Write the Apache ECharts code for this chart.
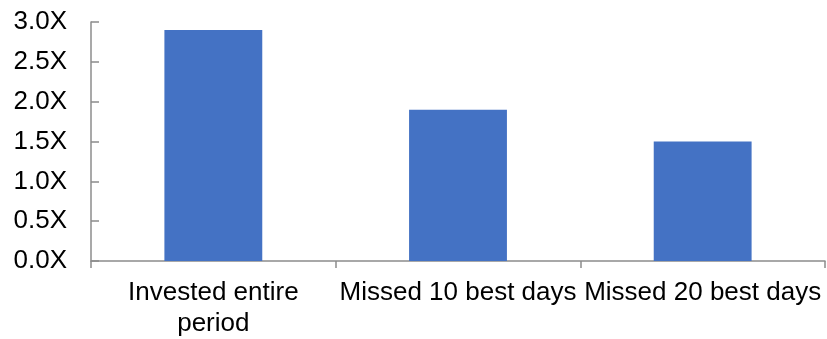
<!DOCTYPE html>
<html>
<head>
<meta charset="utf-8">
<script src="https://cdn.jsdelivr.net/npm/echarts@6/dist/echarts.min.js"></script>
<style>html,body{margin:0;padding:0;background:#fff;}#c{width:827px;height:339px;}</style>
</head>
<body>
<div id="c"></div>
<script>
const categories = ["Invested entire\nperiod", "Missed 10 best days", "Missed 20 best days"];
const values = [2.9, 1.9, 1.5];
const yTicks = [0, 0.5, 1.0, 1.5, 2.0, 2.5, 3.0];

const chart = echarts.init(document.getElementById('c'), null, {renderer: 'canvas'});
const axisColor = '#8c8c8c';
const font = '"Liberation Sans", Arial, sans-serif';
chart.setOption({
  animation: false,
  grid: {left: 91, right: 2, top: 22, bottom: 76, containLabel: false},
  xAxis: {
    type: 'category',
    data: categories,
    axisLine: {lineStyle: {color: axisColor, width: 1.5}},
    axisTick: {show: true, length: 7, lineStyle: {color: axisColor, width: 1.5}},
    axisLabel: {interval: 0, color: '#000', fontFamily: font, fontSize: 26, lineHeight: 31, margin: 16}
  },
  yAxis: {
    type: 'value',
    min: yTicks[0],
    max: yTicks[yTicks.length - 1],
    interval: 0.5,
    splitLine: {show: false},
    axisLine: {show: true, lineStyle: {color: axisColor, width: 1.5}},
    axisTick: {show: true, inside: true, length: 8, lineStyle: {color: axisColor, width: 1.5}},
    axisLabel: {color: '#000', fontFamily: font, fontSize: 26, margin: 24,
      formatter: v => v.toFixed(1) + 'X'}
  },
  series: [{
    type: 'bar',
    data: values,
    barWidth: '40%',
    itemStyle: {color: '#4472C4'}
  }]
});
</script>
</body>
</html>
